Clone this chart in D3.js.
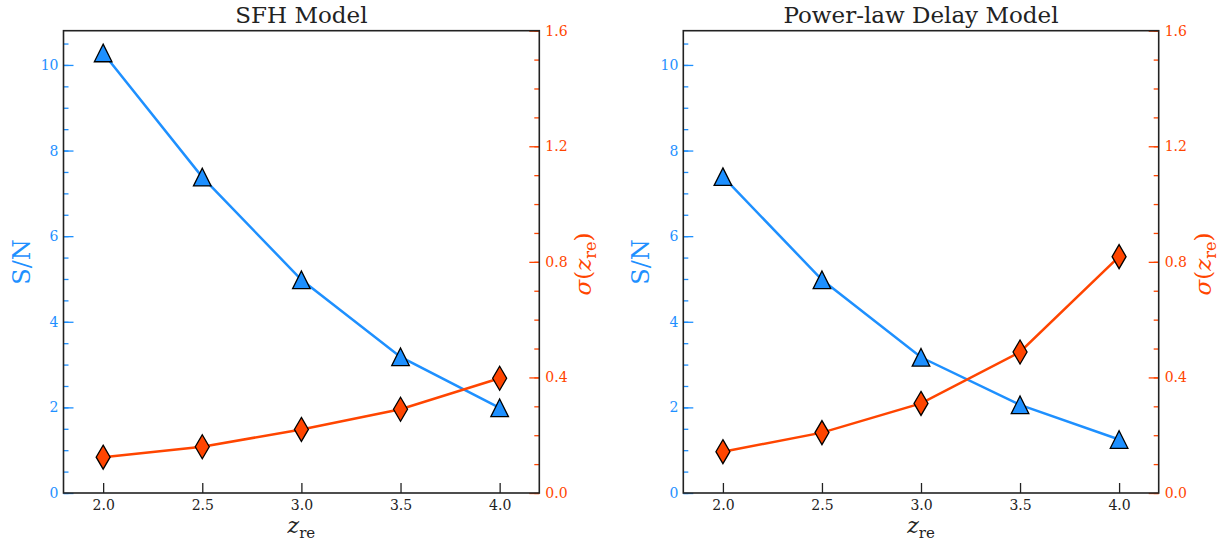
<!DOCTYPE html>
<html>
<head>
<meta charset="utf-8">
<script src="https://cdn.jsdelivr.net/npm/d3@7"></script>
<style>
  body { margin: 0; background: #fff; }
</style>
</head>
<body>
<svg id="chart" width="1228" height="551"></svg>
<script>
// data
const zre        = [2.0, 2.5, 3.0, 3.5, 4.0]
const snrSFH     = [10.28, 7.38, 4.98, 3.18, 1.99]
const sigmaSFH   = [0.124, 0.160, 0.220, 0.290, 0.397]
const snrDelay   = [7.39, 4.98, 3.17, 2.06, 1.25]
const sigmaDelay = [0.143, 0.209, 0.310, 0.488, 0.818]
const titles     = ['SFH Model', 'Power-law Delay Model']
const xTicks     = [2.0, 2.5, 3.0, 3.5, 4.0]
const snrTicks   = [0, 2, 4, 6, 8, 10]
const sigmaTicks = [0.0, 0.4, 0.8, 1.2, 1.6]

const BLUE   = '#1E90FF'
const ORANGE = '#FF4500'
const INK    = '#222'
const FONT   = "'DejaVu Serif', 'Liberation Serif', 'Times New Roman', serif"

const svg = d3.select('#chart').attr('font-family', FONT)

const plotTop = 30.7, plotBottom = 493
const panels = [
  { x0: 63.5,  x1: 539.3,  title: titles[0], snr: snrSFH,   sigma: sigmaSFH },
  { x0: 683.3, x1: 1158.7, title: titles[1], snr: snrDelay, sigma: sigmaDelay }
]

const triangle = 'M0,-8.8L8.8,8.8L-8.8,8.8Z'
const diamond  = 'M0,-12L7,0L0,12L-7,0Z'

function styleAxis(g, color, size) {
  g.attr('color', color)
    .attr('font-family', FONT)
    .attr('font-size', size)
  g.select('.domain').remove()
  g.selectAll('.tick line').attr('stroke-width', 1.3)
}

panels.forEach(p => {
  const x  = d3.scaleLinear().domain([1.8, 4.2]).range([p.x0, p.x1])
  const yL = d3.scaleLinear().domain([0, 10.8]).range([plotBottom, plotTop])
  const yR = d3.scaleLinear().domain([0, 1.6]).range([plotBottom, plotTop])
  const g  = svg.append('g')

  // left axis — S/N, minor every 0.5
  g.append('g')
    .attr('transform', `translate(${p.x0},0)`)
    .call(d3.axisLeft(yL).tickValues(d3.range(0, 10.8, 0.5)).tickSize(-5).tickFormat(''))
    .call(a => styleAxis(a, BLUE, 14))
  g.append('g')
    .attr('transform', `translate(${p.x0},0)`)
    .call(d3.axisLeft(yL).tickValues(snrTicks).tickSize(-10).tickPadding(5).tickFormat(d3.format('d')))
    .call(a => styleAxis(a, BLUE, 14))

  // right axis — sigma, minor every 0.1
  g.append('g')
    .attr('transform', `translate(${p.x1},0)`)
    .call(d3.axisRight(yR).tickValues(d3.range(0, 1.61, 0.1)).tickSize(-5).tickFormat(''))
    .call(a => styleAxis(a, ORANGE, 14))
  g.append('g')
    .attr('transform', `translate(${p.x1},0)`)
    .call(d3.axisRight(yR).tickValues(sigmaTicks).tickSize(-10).tickPadding(6).tickFormat(d3.format('.1f')))
    .call(a => styleAxis(a, ORANGE, 14))

  // bottom axis
  g.append('g')
    .attr('transform', `translate(0,${plotBottom})`)
    .call(d3.axisBottom(x).tickValues(xTicks).tickSize(-10).tickPadding(7).tickFormat(d3.format('.1f')))
    .call(a => styleAxis(a, INK, 14))

  // spines
  g.append('rect')
    .attr('x', p.x0).attr('y', plotTop)
    .attr('width', p.x1 - p.x0).attr('height', plotBottom - plotTop)
    .attr('fill', 'none').attr('stroke', INK).attr('stroke-width', 1.6)

  const line = y => d3.line().x((d, i) => x(zre[i])).y(d => y(d))

  // S/N series
  g.append('path').datum(p.snr)
    .attr('d', line(yL)).attr('fill', 'none')
    .attr('stroke', BLUE).attr('stroke-width', 2.5)
  g.selectAll('.tri').data(p.snr).enter().append('path')
    .attr('class', 'tri')
    .attr('transform', (d, i) => `translate(${x(zre[i])},${yL(d)})`)
    .attr('d', triangle)
    .attr('fill', BLUE).attr('stroke', '#000').attr('stroke-width', 1.3)

  // sigma series (twin axis, drawn on top)
  g.append('path').datum(p.sigma)
    .attr('d', line(yR)).attr('fill', 'none')
    .attr('stroke', ORANGE).attr('stroke-width', 2.5)
  g.selectAll('.dia').data(p.sigma).enter().append('path')
    .attr('class', 'dia')
    .attr('transform', (d, i) => `translate(${x(zre[i])},${yR(d)})`)
    .attr('d', diamond)
    .attr('fill', ORANGE).attr('stroke', '#000').attr('stroke-width', 1.3)

  const cx = (p.x0 + p.x1) / 2

  // title
  g.append('text')
    .attr('x', cx).attr('y', 23)
    .attr('text-anchor', 'middle')
    .attr('font-size', 23).attr('fill', INK)
    .text(p.title)

  // x label  z_re
  const xl = g.append('text')
    .attr('x', cx).attr('y', 533)
    .attr('text-anchor', 'middle')
    .attr('font-size', 22).attr('fill', INK)
  xl.append('tspan').attr('font-style', 'italic').text('z')
  xl.append('tspan').attr('font-size', 15).attr('dy', 5).text('re')

  // left label  S/N
  g.append('text')
    .attr('transform', `translate(${p.x0 - 34},262) rotate(-90)`)
    .attr('text-anchor', 'middle')
    .attr('font-size', 24).attr('fill', BLUE)
    .text('S/N')

  // right label  σ(z_re)
  const rl = g.append('text')
    .attr('transform', `translate(${p.x1 + 52},264) rotate(-90)`)
    .attr('text-anchor', 'middle')
    .attr('font-size', 23).attr('fill', ORANGE)
  rl.append('tspan').attr('font-style', 'italic').text('σ')
  rl.append('tspan').text('(')
  rl.append('tspan').attr('font-style', 'italic').text('z')
  rl.append('tspan').attr('font-size', 16).attr('dy', 5).text('re')
  rl.append('tspan').attr('dy', -5).text(')')
})
</script>
</body>
</html>
